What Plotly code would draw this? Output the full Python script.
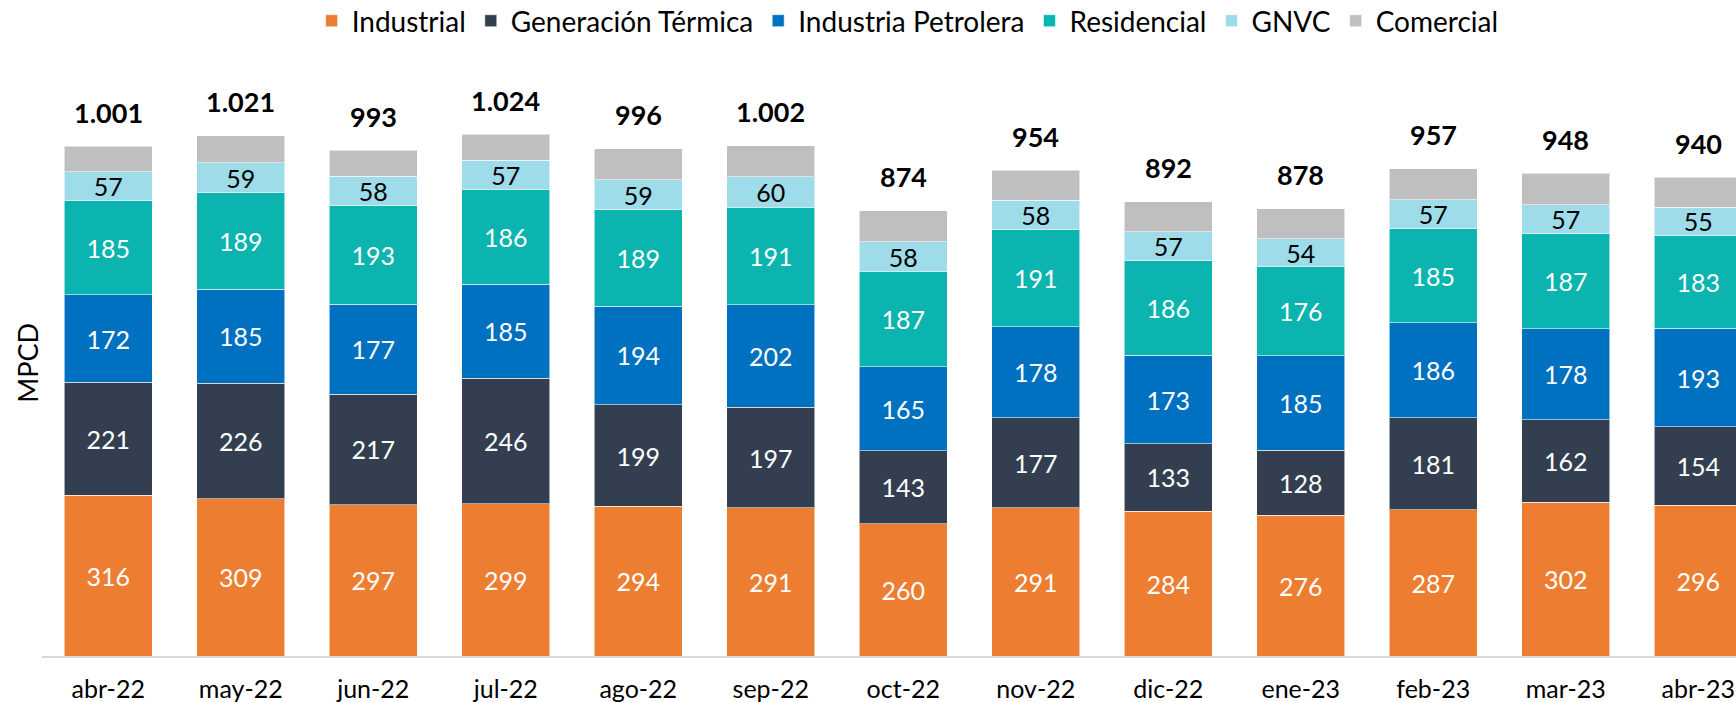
import plotly.graph_objects as go

months = ["abr-22", "may-22", "jun-22", "jul-22", "ago-22", "sep-22", "oct-22",
          "nov-22", "dic-22", "ene-23", "feb-23", "mar-23", "abr-23"]

industrial = [316, 309, 297, 299, 294, 291, 260, 291, 284, 276, 287, 302, 296]
generacion_termica = [221, 226, 217, 246, 199, 197, 143, 177, 133, 128, 181, 162, 154]
industria_petrolera = [172, 185, 177, 185, 194, 202, 165, 178, 173, 185, 186, 178, 193]
residencial = [185, 189, 193, 186, 189, 191, 187, 191, 186, 176, 185, 187, 183]
gnvc = [57, 59, 58, 57, 59, 60, 58, 58, 57, 54, 57, 57, 55]
comercial = [50, 53, 51, 51, 61, 61, 61, 59, 59, 59, 61, 62, 59]

series = [
    ("Industrial", industrial, "#ED7D31", "white", True),
    ("Generación Térmica", generacion_termica, "#333F50", "white", True),
    ("Industria Petrolera", industria_petrolera, "#0070C0", "white", True),
    ("Residencial", residencial, "#0BB4AF", "white", True),
    ("GNVC", gnvc, "#9DDCE8", "black", True),
    ("Comercial", comercial, "#BFBFBF", "black", False),
]

FONT = "Lato"
fig = go.Figure()
for name, vals, color, tcolor, lab in series:
    fig.add_trace(go.Bar(
        name=name, x=months, y=vals,
        marker=dict(color=color, line=dict(color="rgba(255,255,255,0.55)", width=1)),
        text=[str(v) for v in vals] if lab else None,
        texttemplate="%{text}" if lab else None,
        textposition="inside" if lab else "none",
        insidetextanchor="middle",
        textangle=0,
        textfont=dict(color=tcolor, size=25, family=FONT),
        constraintext="none",
        hoverinfo="skip",
    ))

totals = [sum(v) for v in zip(industrial, generacion_termica, industria_petrolera,
                              residencial, gnvc, comercial)]
for m, t in zip(months, totals):
    fig.add_annotation(x=m, y=t, text="<b>" + f"{t:,}".replace(",", ".") + "</b>",
                       showarrow=False, yanchor="middle", yshift=34,
                       font=dict(size=27, family=FONT, color="black"))

fig.add_annotation(x=-0.009, xref="paper", y=0.5, yref="paper", text="MPCD",
                   textangle=-90, showarrow=False, xanchor="center",
                   font=dict(size=27, family=FONT, color="black"))

fig.update_layout(
    width=1736, height=702,
    barmode="stack", bargap=0.336,
    plot_bgcolor="white", paper_bgcolor="white",
    margin=dict(l=42, r=0, t=70, b=46, autoexpand=False),
    font=dict(family=FONT, size=24, color="black"),
    uniformtext=dict(minsize=24, mode="show"),
    legend=dict(orientation="h", x=0.511, xanchor="center", y=1.0836, yanchor="middle",
                font=dict(size=28, family=FONT), traceorder="normal", itemwidth=30),
    xaxis=dict(range=[-0.5, 12.285], showline=True, linecolor="#D9D9D9", linewidth=2,
               ticks="", ticklabelstandoff=10, tickfont=dict(size=25, family=FONT),
               automargin=False, fixedrange=True),
    yaxis=dict(range=[0, 1150.4], showgrid=False, showticklabels=False, zeroline=False,
               showline=False, automargin=False, fixedrange=True),
    showlegend=True,
)

fig.write_html("out.html", config={"displayModeBar": False},
               post_script="document.body.style.margin='0';document.body.style.overflow='hidden';")
